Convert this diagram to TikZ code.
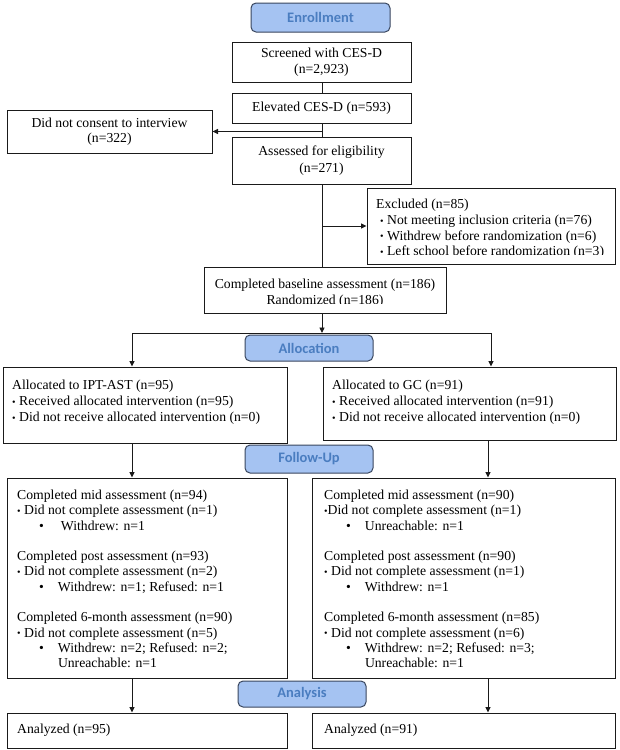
\documentclass[tikz,border=0pt]{standalone}
\usepackage{fontspec}
\setmainfont{Liberation Serif}
\newfontfamily\labfont{Carlito}
\usetikzlibrary{arrows.meta}
\definecolor{labfill}{HTML}{A5C3F2}
\definecolor{labdraw}{HTML}{39465E}
\definecolor{labtext}{HTML}{4A7DC0}
\definecolor{ink}{HTML}{1A1A1A}
\newcommand{\sbul}{{\fontsize{10}{10}\selectfont\raisebox{0.3pt}{•}}}
\begin{document}
\begin{tikzpicture}[x=1pt,y=-1pt,
  box/.style={draw=ink, line width=1pt, rectangle, inner sep=0pt},
  lbl/.style={draw=labdraw, fill=labfill, rounded corners=5pt, line width=1pt,
    font=\labfont\bfseries\fontsize{14.5}{16}\selectfont, text=labtext, inner sep=0pt},
  arr/.style={-{Triangle[length=5.5pt,width=5pt]}, line width=0.9pt, draw=ink},
  ln/.style={line width=0.9pt, draw=ink},
  txt/.style={font=\fontsize{13.7}{15.7}\selectfont, align=left, inner sep=0pt, anchor=north west},
  ftxt/.style={txt, font=\fontsize{13.7}{15.3}\selectfont},
  ctxt/.style={font=\fontsize{13.7}{16.5}\selectfont, align=center}]
\useasboundingbox (0,0) rectangle (619,750);

% ---- enrollment ----
\node[lbl, minimum width=139pt, minimum height=29pt] (enroll) at (320.5,17.5) {Enrollment};
\node[box, ctxt, minimum width=179pt, minimum height=40pt] (screen) at (321.5,62) {Screened with CES-D\\(n=2,923)};
\node[box, ctxt, minimum width=179pt, minimum height=30pt] (elev) at (321.5,108) {Elevated CES-D (n=593)};
\node[box, ctxt, font=\fontsize{13.7}{15}\selectfont, minimum width=205pt, minimum height=43pt] (nocons) at (109.5,131.5) {Did not consent to interview\\(n=322)};
\node[box, ctxt, minimum width=179pt, minimum height=47pt] (assess) at (321.5,160.5) {Assessed for eligibility\\(n=271)};

\node[box, minimum width=248pt, minimum height=76pt] (excl) at (491,226) {};
\begin{scope}
  \clip (367,188) rectangle (615,254.5);
  \node[txt] (excltxt) at (376,197.5) {\strut Excluded (n=85)\\
    \hspace*{4pt}\sbul\ Not meeting inclusion criteria (n=76)\\
    \hspace*{4pt}\sbul\ Withdrew before randomization (n=6)\\
    \hspace*{4pt}\sbul\ Left school before randomization (n=3)};
\end{scope}

\node[box, minimum width=242pt, minimum height=46pt] (base) at (325,290) {};
\begin{scope}
  \clip (204,267) rectangle (446,303.5);
  \node[ctxt, font=\fontsize{13.7}{16}\selectfont] (basetxt) at (325,293) {Completed baseline assessment (n=186)\\Randomized (n=186)};
\end{scope}

% ---- allocation ----
\node[lbl, minimum width=128pt, minimum height=26pt] (alloclab) at (309,348) {Allocation};
\node[box, minimum width=284pt, minimum height=76pt] (allocL) at (145,405) {};
\node[txt, font=\fontsize{13.7}{16}\selectfont] (allocLt) at (12,378.5) {\strut Allocated to IPT-AST (n=95)\\
  \sbul\ Received allocated intervention (n=95)\\
  \sbul\ Did not receive allocated intervention (n=0)};
\node[box, minimum width=293pt, minimum height=73pt] (allocR) at (469.5,403.5) {};
\node[txt, font=\fontsize{13.7}{16}\selectfont] (allocRt) at (332,378.5) {\strut Allocated to GC (n=91)\\
  \sbul\ Received allocated intervention (n=91)\\
  \sbul\ Did not receive allocated intervention (n=0)};

% ---- follow-up ----
\node[lbl, minimum width=128pt, minimum height=28pt] (followlab) at (309,459) {Follow-Up};
\node[box, minimum width=280pt, minimum height=200pt] (folL) at (147,578) {};
\node[ftxt] (folLt) at (17,488.5) {\strut Completed mid assessment (n=94)\\
  \sbul\ Did not complete assessment (n=1)\\
  \hspace*{22pt}•\hspace*{17pt}Withdrew: n=1\\[15.3pt]
  Completed post assessment (n=93)\\
  \sbul\ Did not complete assessment (n=2)\\
  \hspace*{22pt}•\hspace*{14pt}Withdrew: n=1; Refused: n=1\\[15.3pt]
  Completed 6-month assessment (n=90)\\
  \sbul\ Did not complete assessment (n=5)\\
  \hspace*{22pt}•\hspace*{14pt}Withdrew: n=2; Refused: n=2;\\
  \hspace*{40.8pt}Unreachable: n=1};
\node[box, minimum width=303pt, minimum height=200pt] (folR) at (463.5,578) {};
\node[ftxt] (folRt) at (324,488.5) {\strut Completed mid assessment (n=90)\\
  \sbul Did not complete assessment (n=1)\\
  \hspace*{22pt}•\hspace*{14pt}Unreachable: n=1\\[15.3pt]
  Completed post assessment (n=90)\\
  \sbul\ Did not complete assessment (n=1)\\
  \hspace*{22pt}•\hspace*{14pt}Withdrew: n=1\\[15.3pt]
  Completed 6-month assessment (n=85)\\
  \sbul\ Did not complete assessment (n=6)\\
  \hspace*{22pt}•\hspace*{14pt}Withdrew: n=2; Refused: n=3;\\
  \hspace*{40.8pt}Unreachable: n=1};

% ---- analysis ----
\node[lbl, minimum width=128pt, minimum height=26pt] (anallab) at (302,694) {Analysis};
\node[box, minimum width=280pt, minimum height=35pt] (anaL) at (147,730.5) {};
\node[txt] (anaLt) at (17,722.5) {\strut Analyzed (n=95)};
\node[box, minimum width=303pt, minimum height=35pt] (anaR) at (463.5,730.5) {};
\node[txt] (anaRt) at (324,722.5) {\strut Analyzed (n=91)};

% ---- connectors ----
\coordinate (spine) at (322,0);
\draw[ln] (spine |- screen.south) -- (spine |- elev.north);
\draw[ln] (spine |- elev.south) -- (spine |- assess.north);
\draw[arr] (spine |- nocons.east) -- (nocons.east);
\draw[ln] (spine |- assess.south) -- (spine |- base.north);
\draw[arr] (spine |- excl.west) -- (excl.west);
\coordinate (split) at (322,333);
\draw[arr] (spine |- base.south) -- (split);
\coordinate (brL) at (132,333);
\coordinate (brR) at (491,333);
\draw[ln] (brL) -- (brR);
\draw[arr] (brL) -- (brL |- allocL.north);
\draw[arr] (brR) -- (brR |- allocR.north);
\coordinate (colL) at (132,0);
\coordinate (colR) at (488,0);
\draw[arr] (colL |- allocL.south) -- (colL |- folL.north);
\draw[arr] (colR |- allocR.south) -- (colR |- folR.north);
\draw[arr] (colL |- folL.south) -- (colL |- anaL.north);
\draw[arr] (colR |- folR.south) -- (colR |- anaR.north);
\end{tikzpicture}
\end{document}
